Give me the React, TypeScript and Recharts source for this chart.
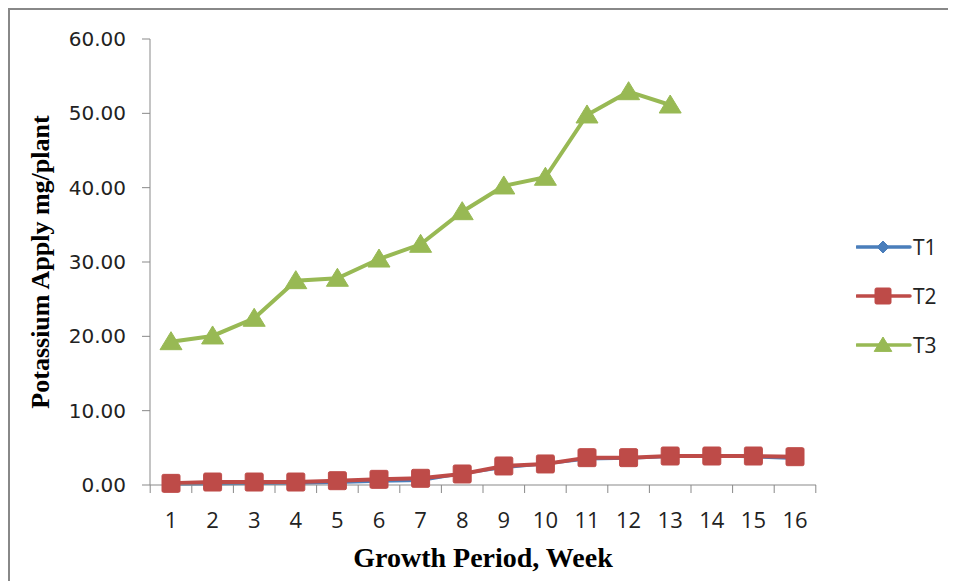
import { useLayoutEffect } from 'react';
import { LineChart, Line, XAxis, YAxis, Legend } from 'recharts';

// growth weeks and potassium applied (mg/plant) per treatment
const weeks = [1, 2, 3, 4, 5, 6, 7, 8, 9, 10, 11, 12, 13, 14, 15, 16];
const t1 = [0.1, 0.15, 0.2, 0.25, 0.35, 0.5, 0.6, 1.55, 2.35, 2.85, 3.5, 3.6, 3.85, 3.9, 3.8, 3.55];
const t2 = [0.22, 0.4, 0.4, 0.4, 0.58, 0.76, 0.9, 1.48, 2.56, 2.83, 3.68, 3.68, 3.9, 3.9, 3.9, 3.81];
const t3 = [19.28, 20.05, 22.43, 27.49, 27.81, 30.4, 32.38, 36.77, 40.23, 41.4, 49.78, 52.91, 51.12];
const yTicks = [0, 10, 20, 30, 40, 50, 60];

const rows = weeks.map((w, i) => ({ week: w, T1: t1[i], T2: t2[i], T3: t3[i] }));

const AXIS = '#898989';
const TEXT = '#222';
const BLUE = '#4A7EBB';
const RED = '#BE4B48';
const GREEN = '#98B954';
const HALF_STEP = 20.8;

const Diamond = ({ cx, cy, r, color }: any) => (
  <polygon points={`${cx},${cy - r} ${cx + r},${cy} ${cx},${cy + r} ${cx - r},${cy}`} fill={color} stroke={color} />
);
const Square = ({ cx, cy, r, color }: any) => (
  <rect x={cx - r} y={cy - r} width={r * 2} height={r * 2} rx={1.5} fill={color} stroke={color} />
);
const Triangle = ({ cx, cy, r, color }: any) => (
  <polygon points={`${cx},${cy - r} ${cx + r * 1.1},${cy + r * 0.8} ${cx - r * 1.1},${cy + r * 0.8}`} fill={color} stroke={color} />
);

const makeDot = (Shape: any, r: number, color: string, id: string) => (props: any) => {
  const { cx, cy, index } = props;
  if (cx == null || cy == null || props.value == null) return <g key={`${id}-${index}`} />;
  return (
    <g key={`${id}-${index}`}>
      <Shape cx={cx} cy={cy} r={r} color={color} />
    </g>
  );
};

const WeekTick = ({ x, y, payload, index }: any) => (
  <g>
    <line x1={x - HALF_STEP} x2={x - HALF_STEP} y1={y} y2={y + 8} stroke={AXIS} />
    {index === weeks.length - 1 && (
      <line x1={x + HALF_STEP} x2={x + HALF_STEP} y1={y} y2={y + 8} stroke={AXIS} />
    )}
    <text x={x} y={y + 43} textAnchor="middle" fontFamily="Open Sans" fontSize={22} fill={TEXT}>
      {payload.value}
    </text>
  </g>
);

const xTitle = (props: any) => {
  const { x, y, width } = props.viewBox;
  return (
    <text x={x + width / 2} y={y + 82} textAnchor="middle" fontFamily="Liberation Serif" fontWeight="bold" fontSize={28} fill="#000">
      Growth Period, Week
    </text>
  );
};

const yTitle = (props: any) => {
  const { y, height } = props.viewBox;
  const cy = y + height / 2;
  return (
    <text x={30} y={cy} transform={`rotate(-90 30 ${cy})`} textAnchor="middle" dominantBaseline="central"
      fontFamily="Liberation Serif" fontWeight="bold" fontSize={26} fill="#000">
      Potassium Apply mg/plant
    </text>
  );
};

const legendMarks: Record<string, any> = {
  T1: { Shape: Diamond, r: 6, color: BLUE },
  T2: { Shape: Square, r: 8, color: RED },
  T3: { Shape: Triangle, r: 8, color: GREEN },
};

const renderLegend = (props: any) => (
  <div style={{ paddingLeft: 40 }}>
    {(props.payload || []).map((entry: any) => {
      const m = legendMarks[entry.dataKey];
      return (
        <div key={entry.dataKey} style={{ height: 49, display: 'flex', alignItems: 'center' }}>
          <svg width={56} height={24}>
            <line x1={1} x2={54} y1={12} y2={12} stroke={m.color} strokeWidth={3.5} strokeLinecap="round" />
            <m.Shape cx={27} cy={12} r={m.r} color={m.color} />
          </svg>
          <span style={{ fontFamily: 'Open Sans', fontSize: 21, color: TEXT, marginLeft: 1 }}>{entry.value}</span>
        </div>
      );
    })}
  </div>
);

export default function App() {
  // the frame runs past the page edges; keep the page from scrolling
  useLayoutEffect(() => {
    document.documentElement.style.overflow = 'hidden';
    document.body.style.overflow = 'hidden';
  }, []);

  return (
    <div style={{ position: 'relative', width: 948, height: 573 }}>
      {/* only the top and left edges of the frame fall inside the page */}
      <div style={{ position: 'absolute', left: 0, top: 0, width: 960, height: 2, background: '#888' }} />
      <div style={{ position: 'absolute', left: 0, top: 0, width: 2, height: 580, background: '#888' }} />
      <div style={{ position: 'absolute', left: 2, top: 2 }}>
        <LineChart width={936} height={571} data={rows} margin={{ top: 29, right: 0, bottom: 0, left: 0 }}>
          <XAxis
            dataKey="week"
            type="category"
            height={96}
            padding={{ left: 21, right: 21 }}
            stroke={AXIS}
            tickLine={false}
            tickSize={0}
            tickMargin={0}
            tick={<WeekTick />}
            interval={0}
            label={xTitle}
          />
          <YAxis
            width={140}
            domain={[0, 60]}
            ticks={yTicks}
            stroke={AXIS}
            tickSize={8}
            tickMargin={16}
            tickFormatter={(v: number) => v.toFixed(2)}
            tick={{ fill: TEXT, fontFamily: 'DejaVu Sans', fontSize: 20 }}
            label={yTitle}
          />
          <Legend layout="vertical" align="right" verticalAlign="middle" width={130} content={renderLegend} />
          <Line dataKey="T1" name="T1" stroke={BLUE} strokeWidth={3} isAnimationActive={false}
            dot={makeDot(Diamond, 5, BLUE, 't1')} />
          <Line dataKey="T2" name="T2" stroke={RED} strokeWidth={4} isAnimationActive={false}
            dot={makeDot(Square, 9, RED, 't2')} />
          <Line dataKey="T3" name="T3" stroke={GREEN} strokeWidth={4} isAnimationActive={false}
            dot={makeDot(Triangle, 10, GREEN, 't3')} />
        </LineChart>
      </div>
    </div>
  );
}
